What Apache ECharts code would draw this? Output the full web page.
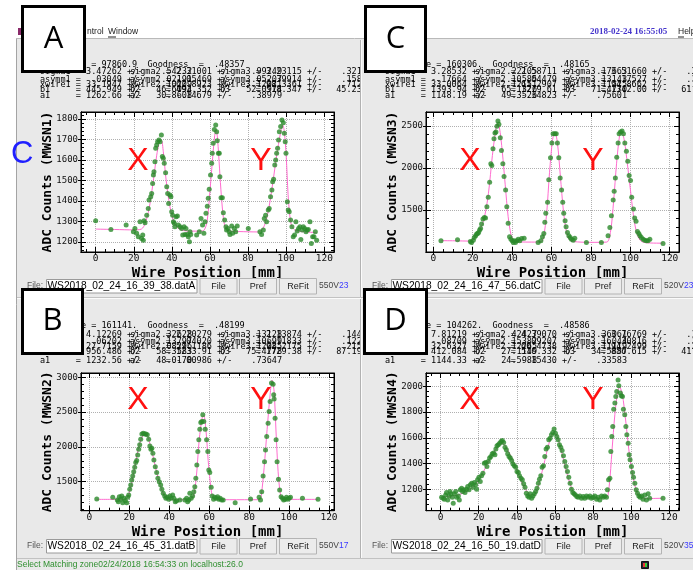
<!DOCTYPE html>
<html>
<head>
<meta charset="utf-8">
<script src="https://cdn.jsdelivr.net/npm/echarts@6/dist/echarts.min.js"></script>
<style>
html,body{margin:0;padding:0;background:#fff;}
#chart{width:693px;height:570px;}
</style>
</head>
<body>
<div id="chart"></div>
<script>
// ---- data ----
var ptsA = [[0,1303],[8,1260],[16,1282],[19.8,1249],[20.6,1265],[21.5,1241],[22.4,1225],[23.3,1298],[24.1,1216],[24.7,1233],[25,1208],[25.4,1303],[25.9,1293],[26.8,1330],[27.6,1363],[28,1404],[28.9,1420],[29.4,1436],[29.9,1485],[30.3,1526],[30.6,1542],[31.1,1591],[31.5,1657],[32,1673],[32.5,1689],[33.2,1697],[33.8,1689],[34.5,1722],[35,1616],[35.5,1608],[36,1583],[36.7,1537],[37.3,1469],[37.8,1436],[38.3,1387],[39,1428],[39.5,1420],[39.9,1347],[40.4,1330],[40.8,1298],[41.3,1290],[41.6,1273],[42.2,1322],[42.9,1326],[43.4,1282],[44.3,1273],[45.1,1265],[45.7,1233],[46.4,1273],[46.9,1236],[47.4,1265],[48.1,1236],[48.6,1225],[49.2,1200],[49.5,1249],[49.9,1236],
[53,1233],[54.4,1249],[55.3,1314],[56.1,1282],[56.8,1241],[57.4,1298],[57.9,1339],[58.6,1374],[59.1,1412],[59.6,1456],[60.3,1526],[60.9,1583],[61.2,1632],[61.7,1681],[62.3,1749],[63,1771],[63.5,1738],[63.8,1694],[64.4,1632],[64.9,1632],[65.2,1518],[65.8,1415],[66.5,1415],[67,1342],[67.7,1306],[68.4,1273],[68.7,1257],[69.4,1265],[70.1,1249],[70.5,1236],[71.4,1277],[71.9,1241],[72.8,1265],[73.5,1249],[74.3,1277],
[80.1,1265],[86.2,1249],[87.1,1236],[88,1257],[88.5,1314],[89.2,1330],[89.7,1298],[90.6,1355],[91.1,1363],[91.8,1420],[92.5,1453],[92.9,1493],[93.4,1505],[94,1575],[94.5,1600],[95,1632],[95.5,1657],[96,1697],[96.4,1738],[97.1,1763],[97.8,1795],[98.5,1782],[99,1730],[99.5,1689],[99.9,1632],[100.6,1396],[101.1,1355],[101.6,1347],[102.3,1306],[103,1273],[103.7,1225],[104.4,1233],[105.1,1298],[105.8,1252],[106.5,1265],[107.2,1273],[107.7,1211],[108.4,1257],[109,1273],[109.7,1265],[110.4,1249],[111,1257],[111.6,1260],[112.5,1298],[113.2,1192],[113.9,1225],[114.6,1225],[115.3,1249],[116,1208]];
var fitA = [[0,1262],[10,1260],[20,1258],[24,1262],[26,1290],[28,1360],[30,1480],[32,1620],[33.5,1690],[34.5,1695],[35.5,1640],[37,1500],[39,1370],[41,1300],[43,1268],[46,1255],[50,1252],[55,1252],[57,1258],[58.5,1300],[60,1450],[61.5,1620],[62.5,1720],[63.3,1745],[64,1700],[65,1560],[66,1420],[67,1320],[68,1272],[70,1252],[75,1250],[85,1248],[87,1255],[89,1290],[91,1370],[93,1490],[95,1620],[97,1730],[98.2,1770],[99,1740],[100,1620],[101,1430],[102,1320],[103,1275],[105,1255],[110,1248],[116,1245]];

var ptsC = [[3.9,1133],[12.3,1145],[18.8,1125],[19.4,1114],[20.3,1141],[20.8,1173],[21.5,1193],[22,1213],[22.5,1221],[23,1233],[23.5,1261],[24,1281],[24.5,1333],[25.2,1392],[25.9,1412],[26.5,1404],[27.2,1540],[27.9,1651],[28.6,1831],[29.2,2050],[29.7,2030],[30.3,2229],[30.8,2349],[31.3,2416],[31.8,2428],[32.3,2496],[32.8,2560],[33.3,2520],[34,2361],[34.6,2209],[35.3,2050],[35.9,1898],[36.7,1739],[37.3,1540],[38,1341],[38.7,1181],[39.4,1153],[40.1,1133],[40.6,1114],[41.1,1133],[41.7,1114],[42.4,1133],[43.1,1153],[43.9,1133],[44.8,1161],[46.1,1165],
[53.2,1114],[54.6,1133],[55.4,1181],[56.1,1221],[56.6,1353],[57.1,1460],[58,1592],[58.6,1859],[59.5,2122],[60.2,2297],[60.8,2408],[61.7,2408],[62.4,2408],[63,2297],[63.7,2122],[64.4,1882],[65.1,1739],[65.7,1592],[66.2,1460],[66.9,1373],[67.4,1301],[68.1,1233],[68.8,1193],[69.5,1173],[70.1,1153],[71,1141],[71.8,1165],
[77.7,1114],[85.3,1114],[88.7,1193],[89.6,1293],[90.4,1432],[91.3,1620],[91.8,1723],[92.4,1882],[93.1,2129],[93.8,2297],[94.3,2408],[95,2428],[95.8,2440],[96.5,2408],[97.2,2297],[98,2201],[98.7,2082],[99.4,1910],[100.1,1851],[100.7,1651],[101.6,1512],[102.2,1404],[102.9,1365],[103.6,1245],[104.3,1221],[104.9,1193],[105.6,1173],[106.5,1153],[107.3,1141],[108.2,1133],[109,1133],[109.9,1153],[116.6,1102]];
var fitC = [[4,1135],[12,1133],[18,1130],[20,1150],[22,1200],[24,1280],[26,1420],[28,1700],[30,2150],[31.5,2420],[32.5,2530],[33.5,2490],[35,2200],[36.5,1800],[38,1420],[39.5,1200],[41,1130],[44,1120],[50,1118],[55,1125],[56,1180],[57.5,1450],[59,1950],[60.5,2330],[61.7,2430],[63,2300],[64.5,1900],[66,1500],[67.5,1250],[69,1150],[71,1125],[80,1115],[88,1118],[90,1250],[91.5,1600],[93,2050],[94.5,2380],[95.5,2440],[97,2320],[98.5,2050],[100,1750],[101.5,1450],[103,1250],[105,1140],[108,1110],[116.6,1105]];

var ptsB = [[3.7,1250],[11.7,1274],[14,1236],[14.5,1211],[15,1284],[15.7,1245],[16.2,1293],[16.7,1197],[17.3,1260],[18,1226],[18.7,1197],[19.2,1274],[19.7,1308],[20.2,1389],[20.7,1452],[21.2,1524],[21.7,1582],[22.2,1644],[22.7,1707],[23.2,1774],[23.7,1803],[24.2,1885],[24.7,1966],[25.2,2029],[25.7,2110],[26.3,2187],[27,2197],[27.7,2187],[28.3,2187],[29,2173],[29.7,2110],[30.3,2014],[30.8,1966],[31.3,1981],[31.8,1909],[32.3,1813],[33,1716],[33.7,1630],[34.3,1548],[35,1500],[35.7,1452],[36.3,1389],[37,1332],[37.7,1293],[38.3,1260],[39,1274],[39.7,1245],[40.3,1293],[41,1260],[41.7,1308],[42.3,1260],[43,1211],[43.7,1226],[45.3,1236],[47.8,1236],[48.7,1260],[49.2,1211],[49.8,1236],[50.3,1332],[51,1260],[51.7,1293],[52.3,1356],[52.8,1428],[53.3,1548],[53.8,1740],[54.3,1933],[54.8,2101],[55.3,2255],[55.8,2351],[56.3,2365],[56.8,2462],[57.3,2365],[58,2255],[58.7,2101],[59.3,1933],[59.8,1668],[60.3,1630],[61,1418],[61.5,1293],[62.2,1245],[62.8,1274],[63.5,1260],[64.2,1284],[64.8,1245],[65.5,1260],[66.2,1236],[67,1236],[73,1197],[80.7,1250],
[85,1274],[85.7,1236],[86.3,1356],[87,1582],[87.7,1788],[88.2,1957],[88.8,2149],[89.5,2341],[90,2510],[90.5,2654],[91.2,2918],[92,2900],[92.3,2750],[92.5,2688],[93,2413],[93.5,2101],[94,1788],[94.7,1534],[95.3,1380],[96,1284],[96.7,1260],[97.3,1236],[98,1245],[98.7,1274],[99.3,1245],[100,1260],[100.7,1274],[106.7,1260],[114.5,1245]];
var fitB = [[3.7,1245],[10,1245],[17,1245],[19,1270],[21,1450],[23,1750],[25,2030],[27,2170],[28.5,2180],[30,2080],[32,1850],[34,1600],[36,1400],[38,1280],[40,1245],[45,1240],[50,1240],[52,1280],[53.5,1550],[55,2100],[56.5,2420],[57.3,2450],[58.5,2200],[59.5,1800],[60.5,1500],[61.5,1300],[63,1250],[70,1240],[85,1240],[86,1290],[87.5,1700],[89,2250],[90.5,2750],[91.5,2960],[92.5,2800],[93.5,2200],[94.5,1650],[95.5,1350],[96.5,1260],[100,1245],[114.5,1245]];

var ptsD = [[0.5,1138],[1.4,1130],[1.9,1122],[2.6,1156],[3.1,1174],[3.7,1117],[4.4,1148],[4.9,1182],[5.4,1164],[6.1,1138],[6.6,1091],[7.2,1164],[7.9,1182],[8.4,1138],[9.3,1148],[9.8,1117],[10.3,1195],[11,1208],[11.5,1182],[12.1,1195],[12.8,1174],[13.5,1200],[14.2,1221],[14.9,1195],[15.6,1234],[16.3,1247],[17,1216],[17.7,1252],[18.4,1234],[18.9,1200],[19.4,1273],[20.1,1294],[20.8,1260],[21.5,1304],[22.2,1325],[22.9,1403],[23.6,1408],[24.3,1377],[25,1416],[25.7,1442],[26.4,1455],[27.1,1475],[27.8,1481],[28.5,1468],[29,1512],[29.6,1538],[30.3,1545],[31,1558],[31.7,1571],[32.4,1579],[33.1,1564],[33.8,1527],[34.5,1507],[35.2,1475],[35.9,1455],[36.6,1442],[37.3,1423],[38,1397],[38.7,1382],[39.4,1371],[40.1,1338],[40.8,1330],[41.4,1304],[42.2,1286],[42.9,1273],[43.6,1242],[44.3,1216],[45,1169],[45.7,1148],[46.4,1138],[47,1164],[47.8,1130],[48.5,1148],[49.2,1164],[49.9,1182],[50.6,1208],[51.3,1247],[51.9,1278],[52.6,1304],[53.3,1371],[54,1382],[54.7,1455],[55.4,1512],[56.1,1527],[56.8,1584],[57.5,1597],[58.2,1623],[58.9,1642],[59.6,1668],[60.3,1636],[61,1610],[61.7,1584],[62.4,1545],[63.1,1527],[63.8,1501],[64.5,1460],[65.2,1416],[65.9,1377],[66.6,1338],[67.3,1294],[68,1247],[68.7,1200],[69.4,1174],[70.1,1164],[70.8,1156],[71.5,1143],[72.2,1138],[73.1,1148],[74,1130],[74.9,1143],[75.7,1130],[76.6,1148],[77.5,1138],[78.4,1148],[79.2,1130],[80.1,1138],[81,1148],[81.9,1122],[82.7,1138],[83.6,1117],[84.5,1148],[85.4,1138],[86.2,1148],[87.1,1138],[87.6,1195],[88.2,1273],[88.9,1286],[89.4,1494],[89.9,1610],[90.4,1688],[90.9,1823],[91.5,1870],[92,1922],[92.5,1961],[93.2,2050],[93.6,2005],[94.4,1948],[94.9,1927],[95.5,1922],[96,1823],[96.7,1779],[97.3,1688],[97.8,1623],[98.5,1558],[99,1468],[99.5,1429],[100.2,1377],[100.8,1330],[101.3,1294],[102,1247],[102.7,1195],[103.4,1169],[104.1,1148],[104.8,1138],[105.5,1148],[106.3,1122],[107.2,1156],[108.1,1117],[109,1164],[109.8,1130],[116.8,1130]];
var fitD = [[0.5,1140],[5,1145],[10,1160],[15,1195],[20,1270],[25,1410],[30,1530],[32.5,1555],[35,1510],[38,1420],[41,1310],[44,1210],[47,1160],[49,1155],[51,1210],[54,1380],[57,1560],[59.5,1640],[61,1620],[63,1520],[66,1340],[68,1240],[70,1170],[73,1135],[80,1130],[87,1135],[88.5,1220],[90,1500],[91.5,1780],[93,1960],[94,1995],[95.5,1930],[97,1760],[99,1490],[101,1300],[103,1180],[105,1135],[110,1128],[116.8,1130]];

// fit parameter printout (value / error) per row: sigma, asymm, xwire, b, a
var rowNames = ['sigma','asymm','xwire','b','a'];
var valsA = [['3.47262','2.31001','3.23115'],['.03049','-.05469','-.39914'],['33.1947','62.8923','98.3361'],['445.949','492.352','518.347'],['1262.66','-.14679']];
var errsA = [['.54232','.99249','.32114'],['.02191','.05207','.15873'],['.10209','.12021','.71245'],['46.6094','52.0974','45.2318'],['30.8608','.38979']];
var valsC = [['3.28532','2.58711','3.51660'],['-.17664','.04479','.17527'],['33.0064','61.2907','94.8662'],['1393.94','1279.61','1342.00'],['1148.19','-.34823']];
var errsC = [['.22105','.17663','.31877'],['.10585','.13143','.12094'],['.12151','.11525','.14380'],['65.1326','71.4770','61.2209'],['49.3526','.75601']];
var valsB = [['4.12269','2.20279','2.13874'],['.06202','.04020','-.11833'],['27.7159','57.1186','92.2175'],['956.486','1233.91','1729.38'],['1232.56','-.00986']];
var errsB = [['.32628','.13128','.14420'],['.13797','.10699','.12233'],['.08296','.12085','.21570'],['58.3583','75.4778','87.1912'],['48.0170','.73647']];
var valsD = [['7.81219','4.39070','3.76769'],['-.08709','.09207','.30816'],['32.6327','60.4738','94.2499'],['412.084','516.332','856.615'],['1144.33','-.15430']];
var errsD = [['.42427','.36061','.14255'],['.15382','.16044','.11908'],['.12265','.11119','.20531'],['27.1149','34.5887','41.0036'],['24.5988','.33583']];
var chisq = ['97860.9','160306.','161141.','104262.'];
var goodness = ['.48357','.48165','.48199','.48586'];
var fileNames = ['WS2018_02_24_16_39_38.datA','WS2018_02_24_16_47_56.datC','WS2018_02_24_16_45_31.datB','WS2018_02_24_16_50_19.datD'];
var volts = ['550V','520V','550V','520V'];
var voltNums = ['23','23','17','35'];
var channels = ['MWSN1','MWSN3','MWSN2','MWSN4'];
var boxLetters = ['A','C','B','D'];

// ---- layout of the four panels (pixels) ----
var panels = [
	{pts:ptsA, fit:fitA, vals:valsA, errs:errsA, ox:0, tx:40, headY:65, rowY:[72,79.5,84.5,90,95.7], fileY:279.5, box:[21,5,65,68],
		grid:[81,112,253,140], xr:[-7.7,125.1], yr:[1150,1834], yi:100, X:[138,161], Y:[261,161], z:-17},
	{pts:ptsC, fit:fitC, vals:valsC, errs:errsC, ox:345, tx:385, headY:65, rowY:[72,79.5,84.5,90,95.7], fileY:279.5, box:[364,5,63,68],
		grid:[426,112,253,140], xr:[-3.7,124.7], yr:[1000,2667], yi:500, X:[470,161], Y:[593,161], z:-12},
	{pts:ptsB, fit:fitB, vals:valsB, errs:errsB, ox:0, tx:40, headY:326, rowY:[334.3,341.7,346.7,352,361], fileY:539.5, box:[21,288,63,67],
		grid:[81,373,253,137.7], xr:[-4.2,122.5], yr:[1082,3063], yi:500, X:[138,400], Y:[261,400], z:-17},
	{pts:ptsD, fit:fitD, vals:valsD, errs:errsD, ox:345, tx:385, headY:326, rowY:[334.3,341.7,346.7,352,361], fileY:539.5, box:[363,288,65,67],
		grid:[426,373,253,137.7], xr:[-7.7,125.2], yr:[1033,2104], yi:200, X:[470,400], Y:[593,400], z:-12}
];

var MONO = 'DejaVu Sans Mono';
var SANS = 'Liberation Sans';

function pad(s,n){ while(s.length<n) s=' '+s; return s; }
function padR(s,n){ while(s.length<n) s=s+' '; return s; }
function plain(v){ return String(v); }
function txt(x,y,s,st,z,rot){
	var style = {text:s, fill:st.fill||'#000', fontSize:st.size||9, fontFamily:st.family||SANS, fontWeight:st.weight||'normal',
		align:st.align||'left', textAlign:st.align||'left', verticalAlign:'middle', textVerticalAlign:'middle'};
	var el = {type:'text', x:x, y:y, z:z, silent:true, style:style};
	if(rot) el.rotation = rot;
	return el;
}
function rect(x,y,w,h,fill,stroke,lw,z){
	return {type:'rect', z:z, silent:true, shape:{x:x,y:y,width:w,height:h}, style:{fill:fill, stroke:stroke||null, lineWidth:lw||0}};
}
function line(x1,y1,x2,y2,c,z){
	return {type:'line', z:z, silent:true, shape:{x1:x1,y1:y1,x2:x2,y2:y2}, style:{stroke:c, lineWidth:1}};
}

var grids = [], xAxes = [], yAxes = [], series = [], gfx = [];

// window chrome
gfx.push(rect(16,39,677,531,'#e9e9e9',null,0,-20));
gfx.push(line(16,38.5,693,38.5,'#b9b9b9',-19));
gfx.push(line(16.5,39,16.5,570,'#a4a4a4',-19));
gfx.push(rect(361,40,332,257,'#e9e9e9',null,0,-15));
gfx.push(rect(361,299,332,259,'#e9e9e9',null,0,-15));
gfx.push(line(360.5,40,360.5,558,'#b2b2b2',-14));
gfx.push(line(361.5,40,361.5,558,'#fbfbfb',-14));
gfx.push(line(17,297.5,693,297.5,'#c2c2c2',-14));
gfx.push(line(17,298.5,693,298.5,'#fbfbfb',-14));
gfx.push(line(17,558.5,693,558.5,'#c2c2c2',-14));
gfx.push(rect(18,28,3,7,'#8a2a6a',null,0,-14));
gfx.push(txt(87,32,'ntrol',{size:8.5,fill:'#222'},-14));
gfx.push(txt(108,32,'Window',{size:8.5,fill:'#222'},-14));
gfx.push(line(108,37,116,37,'#222',-14));
gfx.push(txt(590,32,'2018-02-24 16:55:05',{size:9,weight:'bold',family:'Liberation Serif',fill:'#4535cc'},-14));
gfx.push(txt(678,32,'Help',{size:8.5,fill:'#222'},-14));
gfx.push(line(678,37,684,37,'#222',-14));
gfx.push(txt(17,565,'Select Matching zone02/24/2018 16:54:33 on localhost:26.0',{size:8.5,fill:'#2f8f2f'},-14));
gfx.push(rect(641.5,561.5,7,7,'#223','#111',1,-14));
gfx.push(rect(643,563,2,4,'#e33',null,0,-13));
gfx.push(rect(645,563,2,4,'#3c3',null,0,-13));
gfx.push(txt(11,154,'C',{size:31,fill:'#1f1fff'},60));

for(var i=0;i<panels.length;i++){
	var p = panels[i], z = p.z;
	grids.push({left:p.grid[0], top:p.grid[1], width:p.grid[2], height:p.grid[3], show:true,
		backgroundColor:'#fff', borderColor:'#000', borderWidth:1});
	var xBase = {gridIndex:i, type:'value', min:p.xr[0], max:p.xr[1], minInterval:20, maxInterval:20,
		axisLine:{onZero:false, lineStyle:{color:'#000'}}, splitLine:{show:false}};
	var yBase = {gridIndex:i, type:'value', min:p.yr[0], max:p.yr[1], minInterval:p.yi, maxInterval:p.yi,
		axisLine:{onZero:false, lineStyle:{color:'#000'}}, splitLine:{show:false}};
	// labelled axes, short ticks outside
	xAxes.push(Object.assign({}, xBase, {position:'bottom',
		axisTick:{inside:false, length:3, lineStyle:{color:'#000'}},
		splitLine:{show:true, lineStyle:{color:'#b0b0b0', type:'dotted'}},
		axisLabel:{showMinLabel:false, showMaxLabel:false, margin:2, fontFamily:MONO, fontSize:9.5, color:'#111', formatter:plain}}));
	yAxes.push(Object.assign({}, yBase, {position:'left',
		axisTick:{inside:false, length:3, lineStyle:{color:'#000'}},
		splitLine:{show:true, lineStyle:{color:'#b0b0b0', type:'dotted'}},
		axisLabel:{showMinLabel:false, showMaxLabel:false, margin:3, fontFamily:MONO, fontSize:9, color:'#111', formatter:plain}}));
	// inside ticks on all four sides
	var sides = [['bottom','left'],['top','right']];
	for(var s=0;s<2;s++){
		xAxes.push(Object.assign({}, xBase, {position:sides[s][0], axisLabel:{show:false},
			axisTick:{inside:true, length:5, lineStyle:{color:'#000'}},
			minorTick:{show:true, splitNumber:4, length:3, lineStyle:{color:'#000'}}}));
		yAxes.push(Object.assign({}, yBase, {position:sides[s][1], axisLabel:{show:false},
			axisTick:{inside:true, length:5, lineStyle:{color:'#000'}},
			minorTick:{show:true, splitNumber:5, length:3, lineStyle:{color:'#000'}}}));
	}
	series.push({type:'line', xAxisIndex:3*i, yAxisIndex:3*i, data:p.fit, smooth:0.3, showSymbol:false,
		lineStyle:{color:'#ff6ccf', width:1}, z:2, silent:true});
	series.push({type:'scatter', xAxisIndex:3*i, yAxisIndex:3*i, data:p.pts, symbolSize:5,
		itemStyle:{color:'#2b8a2b'}, z:3, silent:true});

	// axis names
	var cx = p.grid[0] + p.grid[2]/2, cy = p.grid[1] + p.grid[3]/2;
	gfx.push(txt(cx, p.grid[1]+p.grid[3]+21.5, 'Wire Position [mm]', {size:14, weight:'bold', family:MONO, fill:'#000', align:'center'}, z));
	gfx.push(txt(p.grid[0]-33, cy, 'ADC Counts ('+channels[i]+')', {size:13, weight:'bold', family:MONO, fill:'#000', align:'center'}, z, Math.PI/2));

	// fit printout
	gfx.push(txt(p.tx, p.headY, 'Chisquare = '+chisq[i]+'  Goodness  =  '+goodness[i], {size:8.5, family:MONO}, z));
	for(var r=0;r<rowNames.length;r++){
		for(var k=0;k<p.vals[r].length;k++){
			var gx = p.tx + k*90;
			var s1 = padR(rowNames[r]+(k+1),6)+' = '+pad(p.vals[r][k],7)+' +/-';
			gfx.push(txt(gx, p.rowY[r], s1, {size:8.5, family:MONO}, z));
			gfx.push(txt(gx+152, p.rowY[r], p.errs[r][k], {size:8.5, family:MONO, align:'right'}, z));
		}
	}

	// file row
	var fy = p.fileY, ox = p.ox;
	gfx.push(rect(ox+18, fy-1.5, 342, 17, '#e9e9e9', null, 0, z+1));
	gfx.push(txt(ox+27, fy+6.5, 'File:', {size:8.5, fill:'#555'}, z+2));
	gfx.push(rect(ox+46.5, fy, 150.5, 13.5, '#fff', '#9a9a9a', 1, z+2));
	gfx.push(txt(ox+47.5, fy+7, fileNames[i], {size:10.2, fill:'#000'}, z+2));
	var btn = ['File','Pref','ReFit'], bx = [200,239.5,279.5];
	for(var b=0;b<3;b++){
		gfx.push(rect(ox+bx[b], fy-1, 37, 15.5, '#ececec', '#b4b4b4', 1, z+2));
		gfx.push(txt(ox+bx[b]+18.5, fy+7, btn[b], {size:9, fill:'#222', align:'center'}, z+2));
	}
	gfx.push(txt(ox+319, fy+6.5, volts[i], {size:8.5, fill:'#444'}, z+2));
	gfx.push(txt(ox+339, fy+6.5, voltNums[i], {size:8.5, fill:'#3a3aff'}, z+2));

	// big letter box and X / Y tags
	gfx.push(rect(p.box[0]+1.5, p.box[1]+1.5, p.box[2]-3, p.box[3]-3, '#fff', '#000', 3, 60));
	gfx.push(txt(p.box[0]+p.box[2]/2, p.box[1]+p.box[3]/2, boxLetters[i], {size:31, family:'Open Sans', fill:'#000', align:'center'}, 61));
	gfx.push(txt(p.X[0], p.X[1], 'X', {size:32, fill:'#ff1010', align:'center'}, 55));
	gfx.push(txt(p.Y[0], p.Y[1], 'Y', {size:32, fill:'#ff1010', align:'center'}, 55));
}

var chart = echarts.init(document.getElementById('chart'), null, {renderer:'canvas'});
chart.setOption({
	animation:false,
	backgroundColor:'#fff',
	grid:grids,
	xAxis:xAxes,
	yAxis:yAxes,
	series:series,
	graphic:{elements:gfx}
});
</script>
</body>
</html>
